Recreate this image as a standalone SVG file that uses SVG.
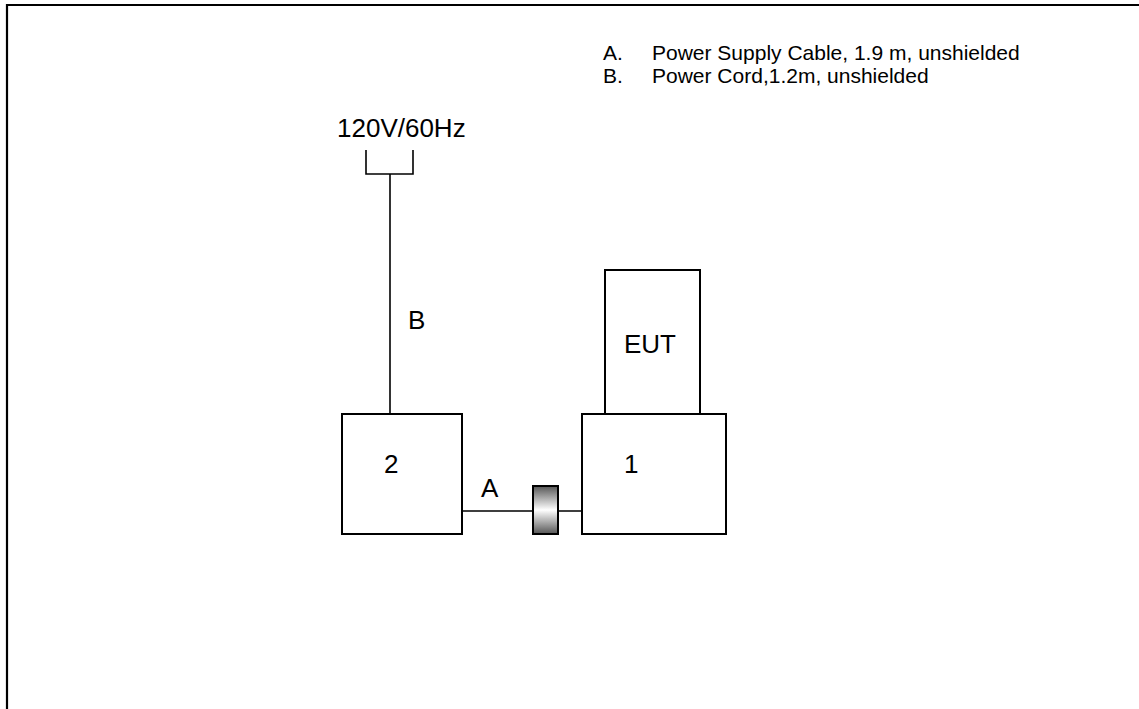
<svg xmlns="http://www.w3.org/2000/svg" width="1139" height="709" viewBox="0 0 1139 709">
<defs>
<linearGradient id="ferrite" x1="0" y1="0" x2="0" y2="1">
<stop offset="0" stop-color="#555"/>
<stop offset="0.5" stop-color="#fff"/>
<stop offset="1" stop-color="#555"/>
</linearGradient>
</defs>
<style>
.box{fill:#fff;stroke:#000;stroke-width:2}
.wire{fill:none;stroke:#000;stroke-width:1.6}
.lbl{font-family:"Liberation Sans",Arial,sans-serif;font-size:26px;fill:#000}
.leg{font-family:"Liberation Sans",Arial,sans-serif;font-size:21px;fill:#000}
</style>
<rect x="0" y="0" width="1139" height="709" fill="#fff"/>
<path d="M7,709 V5 H1139" fill="none" stroke="#000" stroke-width="2.2"/>
<g id="legend">
<text class="leg" x="603" y="60">A.</text>
<text class="leg" x="652" y="60">Power Supply Cable, 1.9 m, unshielded</text>
<text class="leg" x="603" y="83">B.</text>
<text class="leg" x="652" y="83">Power Cord,1.2m, unshielded</text>
</g>
<g id="connectors">
<path class="wire" d="M366,150 V174 H413 V150"/>
<path class="wire" d="M390,174 V414"/>
<path class="wire" d="M462,511 H533 M558,511 H582"/>
<text class="lbl" x="408" y="329">B</text>
<text class="lbl" x="481" y="497">A</text>
</g>
<g id="mains">
<text class="lbl" x="337" y="137">120V/60Hz</text>
</g>
<g id="ferrite-core">
<rect x="533" y="486" width="25" height="48" fill="url(#ferrite)" stroke="#000" stroke-width="2"/>
</g>
<g id="node-2">
<rect class="box" x="342" y="414" width="120" height="120"/>
<text class="lbl" x="384" y="473">2</text>
</g>
<g id="node-1">
<rect class="box" x="582" y="414" width="144" height="120"/>
<text class="lbl" x="624" y="473">1</text>
</g>
<g id="node-eut">
<rect class="box" x="605" y="270" width="95" height="144"/>
<text class="lbl" x="624" y="353">EUT</text>
</g>
</svg>
